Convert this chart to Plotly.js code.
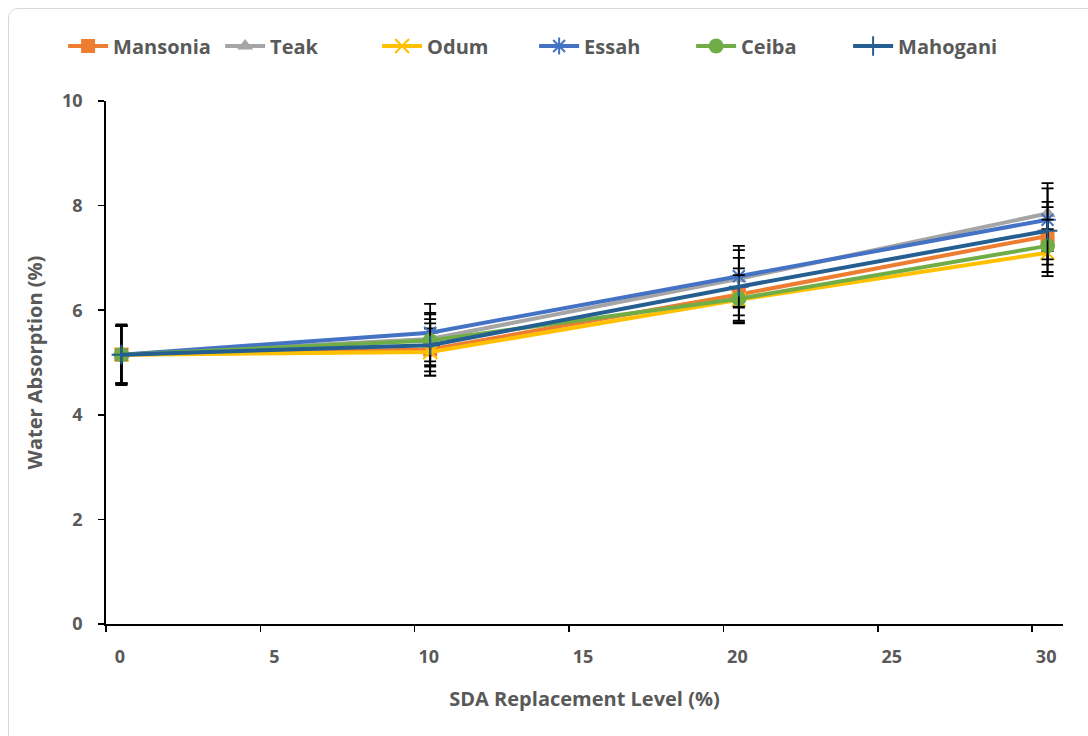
<!DOCTYPE html>
<html>
<head>
<meta charset="utf-8">
<script src="https://cdn.plot.ly/plotly-3.0.1.min.js"></script>
<style>
html,body{margin:0;padding:0;background:#fff;}
#frame{position:absolute;left:8px;top:8px;width:1090px;height:740px;border:1.5px solid #d9d9d9;border-radius:10px;box-sizing:border-box;}
#chart{position:absolute;left:0;top:0;width:1088px;height:736px;}
</style>
</head>
<body>
<div id="frame"></div>
<div id="chart"></div>
<script>
// SDA replacement level positions as drawn
const xLevels = [0.5, 10.5, 20.5, 30.5];
const seriesNames = ["Mansonia", "Teak", "Odum", "Essah", "Ceiba", "Mahogani"];
const mansonia = [5.15, 5.25, 6.30, 7.42];
const teak     = [5.15, 5.45, 6.60, 7.85];
const odum     = [5.15, 5.20, 6.20, 7.10];
const essah    = [5.15, 5.57, 6.65, 7.73];
const ceiba    = [5.15, 5.42, 6.22, 7.23];
const mahogani = [5.15, 5.33, 6.45, 7.52];
const errMansonia = [0.55, 0.50, 0.50, 0.55];
const errTeak     = [0.56, 0.50, 0.55, 0.58];
const errOdum     = [0.55, 0.45, 0.45, 0.45];
const errEssah    = [0.58, 0.55, 0.58, 0.60];
const errCeiba    = [0.55, 0.50, 0.45, 0.50];
const errMahogani = [0.55, 0.50, 0.55, 0.55];
const xTicks = [0, 5, 10, 15, 20, 25, 30];
const yTicks = [0, 2, 4, 6, 8, 10];

const values = [mansonia, teak, odum, essah, ceiba, mahogani];
const errors = [errMansonia, errTeak, errOdum, errEssah, errCeiba, errMahogani];
const colors = ["#ED7D31", "#A5A5A5", "#FFC000", "#4472C4", "#70AD47", "#255E91"];
const symbols = ["square", "triangle-up", "x-thin-open", "asterisk-open", "circle", "cross-thin-open"];
const sizes = [14, 14, 14, 14, 15, 14];

const FONT = "'Open Sans', 'DejaVu Sans', sans-serif";
const GREY = "#595959";
const traces = seriesNames.map((name, i) => {
  const thin = symbols[i].indexOf("open") >= 0;
  return {
    type: "scatter",
    mode: "lines+markers",
    name: name,
    x: xLevels,
    y: values[i],
    line: {color: colors[i], width: 4},
    marker: {
      symbol: symbols[i],
      size: sizes[i],
      color: colors[i],
      line: {color: colors[i], width: thin ? 2 : 0}
    },
    error_y: {type: "data", array: errors[i], visible: true, color: "#000000", thickness: 1.8, width: 6}
  };
});

const layout = {
  width: 1088, height: 736,
  margin: {l: 106, r: 25, t: 101, b: 112},
  paper_bgcolor: "rgba(0,0,0,0)",
  plot_bgcolor: "#ffffff",
  font: {family: FONT, color: GREY},
  showlegend: true,
  legend: {
    orientation: "h",
    xref: "container", yref: "container",
    x: 0.058, y: 1 - 46/736, xanchor: "left", yanchor: "middle",
    font: {family: FONT, size: 20, color: GREY, weight: 700},
    itemwidth: 40,
    entrywidth: 102, entrywidthmode: "pixels",
    bgcolor: "rgba(0,0,0,0)"
  },
  xaxis: {
    range: [0, 31],
    tickvals: xTicks,
    ticktext: xTicks.map(String),
    ticks: "outside", ticklen: 6, tickwidth: 1.5, tickcolor: "#000",
    ticklabelstandoff: 10,
    ticklabelshift: 14,
    showline: true, linecolor: "#000", linewidth: 1.8,
    showgrid: false, zeroline: false,
    tickfont: {family: FONT, size: 18, color: GREY, weight: 700},
    title: {text: "SDA Replacement Level (%)", font: {family: FONT, size: 20, color: GREY, weight: 700}, standoff: 24}
  },
  yaxis: {
    range: [0, 10],
    tickvals: yTicks,
    ticks: "outside", ticklen: 6, tickwidth: 1.5, tickcolor: "#000",
    ticklabelstandoff: 12,
    showline: true, linecolor: "#000", linewidth: 1.8,
    showgrid: false, zeroline: false,
    tickfont: {family: FONT, size: 18, color: GREY, weight: 700},
    title: {text: "Water Absorption (%)", font: {family: FONT, size: 20, color: GREY, weight: 700}, standoff: 14}
  }
};

Plotly.newPlot("chart", traces, layout, {displayModeBar: false, staticPlot: true});
</script>
</body>
</html>
